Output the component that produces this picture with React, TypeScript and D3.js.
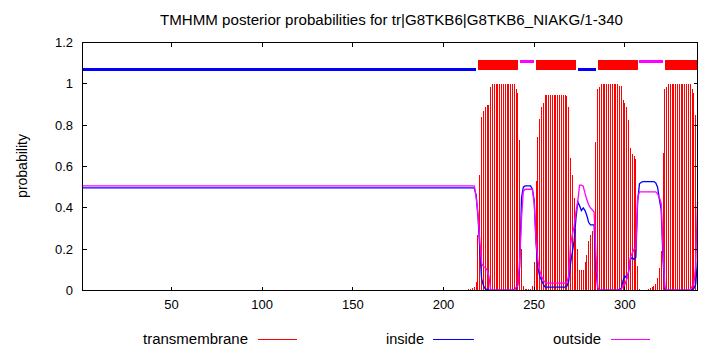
import React from "react";
import * as d3 from "d3";

// ---------- data (per residue 1..340) ----------
const title = "TMHMM posterior probabilities for tr|G8TKB6|G8TKB6_NIAKG/1-340";
const seqLength = 340;

const tmProb = [
  0, 0, 0.004, 0.004, 0.004, 0.004, 0.004, 0.004, 0.004, 0.004, 0.004, 0.004, 0.004, 0.004, 0.004, 0.004, 0.004, 0.004, 0.004, 0,
  0, 0, 0, 0, 0, 0, 0, 0, 0, 0, 0, 0, 0, 0, 0, 0, 0, 0, 0, 0,
  0, 0, 0, 0, 0, 0, 0, 0, 0, 0, 0, 0, 0, 0, 0, 0, 0, 0, 0, 0,
  0, 0, 0, 0, 0, 0, 0, 0, 0, 0, 0, 0, 0, 0, 0, 0, 0, 0, 0, 0,
  0, 0, 0, 0, 0, 0, 0, 0, 0, 0, 0, 0, 0, 0, 0, 0, 0, 0, 0, 0,
  0, 0, 0, 0, 0, 0, 0, 0, 0, 0, 0, 0, 0, 0, 0, 0, 0, 0, 0, 0,
  0, 0, 0, 0, 0, 0, 0, 0, 0, 0, 0, 0, 0, 0, 0, 0, 0, 0, 0, 0,
  0, 0, 0, 0, 0, 0, 0, 0, 0, 0, 0, 0, 0, 0, 0, 0, 0, 0, 0, 0,
  0, 0, 0, 0, 0, 0, 0, 0, 0, 0, 0, 0, 0, 0, 0, 0, 0, 0, 0, 0,
  0, 0, 0, 0, 0, 0, 0, 0, 0, 0, 0, 0, 0, 0, 0, 0, 0, 0, 0, 0,
  0, 0, 0, 0, 0, 0, 0, 0, 0, 0, 0, 0, 0, 0.005, 0.008, 0.01, 0.015, 0.04, 0.27, 0.56,
  0.84, 0.87, 0.89, 0.9, 0.9, 0.987, 0.997, 1, 1, 1, 1, 1, 1, 1, 1, 1, 1, 1, 0.997, 0.977,
  0.958, 0.726, 0.2, 0.02, 0.008, 0.005, 0.005, 0.006, 0.02, 0.14, 0.53, 0.745, 0.832, 0.886, 0.905, 0.944, 0.948, 0.948, 0.948, 0.948,
  0.948, 0.948, 0.948, 0.948, 0.948, 0.948, 0.948, 0.939, 0.886, 0.64, 0.56, 0.45, 0.3, 0.2, 0.1, 0.1, 0.1, 0.14, 0.17, 0.24,
  0.27, 0.29, 0.3, 0.72, 0.977, 0.987, 0.997, 1, 1, 1, 1, 1, 1, 1, 1, 0.997, 0.99, 0.99, 0.92, 0.905,
  0.886, 0.823, 0.69, 0.66, 0.65, 0.634, 0.12, 0.007, 0.003, 0.002, 0.002, 0.004, 0.006, 0.01, 0.015, 0.02, 0.03, 0.06, 0.11, 0.19,
  0.665, 0.973, 0.987, 0.997, 1, 1, 1, 1, 1, 1, 1, 1, 1, 0.997, 0.997, 0.997, 0.973, 0.958, 0.847, 0.435,
];

const insideProb = [
  0.497, 0.497, 0.497, 0.497, 0.497, 0.497, 0.497, 0.497, 0.497, 0.497, 0.497, 0.497, 0.497, 0.497, 0.497, 0.497, 0.497, 0.497, 0.497, 0.497,
  0.497, 0.497, 0.497, 0.497, 0.497, 0.497, 0.497, 0.497, 0.497, 0.497, 0.497, 0.497, 0.497, 0.497, 0.497, 0.497, 0.497, 0.497, 0.497, 0.497,
  0.497, 0.497, 0.497, 0.497, 0.497, 0.497, 0.497, 0.497, 0.497, 0.497, 0.497, 0.497, 0.497, 0.497, 0.497, 0.497, 0.497, 0.497, 0.497, 0.497,
  0.497, 0.497, 0.497, 0.497, 0.497, 0.497, 0.497, 0.497, 0.497, 0.497, 0.497, 0.497, 0.497, 0.497, 0.497, 0.497, 0.497, 0.497, 0.497, 0.497,
  0.497, 0.497, 0.497, 0.497, 0.497, 0.497, 0.497, 0.497, 0.497, 0.497, 0.497, 0.497, 0.497, 0.497, 0.497, 0.497, 0.497, 0.497, 0.497, 0.497,
  0.497, 0.497, 0.497, 0.497, 0.497, 0.497, 0.497, 0.497, 0.497, 0.497, 0.497, 0.497, 0.497, 0.497, 0.497, 0.497, 0.497, 0.497, 0.497, 0.497,
  0.497, 0.497, 0.497, 0.497, 0.497, 0.497, 0.497, 0.497, 0.497, 0.497, 0.497, 0.497, 0.497, 0.497, 0.497, 0.497, 0.497, 0.497, 0.497, 0.497,
  0.497, 0.497, 0.497, 0.497, 0.497, 0.497, 0.497, 0.497, 0.497, 0.497, 0.497, 0.497, 0.497, 0.497, 0.497, 0.497, 0.497, 0.497, 0.497, 0.497,
  0.497, 0.497, 0.497, 0.497, 0.497, 0.497, 0.497, 0.497, 0.497, 0.497, 0.497, 0.497, 0.497, 0.497, 0.497, 0.497, 0.497, 0.497, 0.497, 0.497,
  0.497, 0.497, 0.497, 0.497, 0.497, 0.497, 0.497, 0.497, 0.497, 0.497, 0.497, 0.497, 0.497, 0.497, 0.497, 0.497, 0.497, 0.497, 0.497, 0.497,
  0.497, 0.497, 0.497, 0.497, 0.497, 0.497, 0.497, 0.497, 0.497, 0.497, 0.497, 0.497, 0.497, 0.497, 0.497, 0.497, 0.495, 0.46, 0.36, 0.2,
  0.056, 0.024, 0.008, 0.005, 0.003, 0.002, 0.002, 0.002, 0.002, 0.002, 0.002, 0.002, 0.002, 0.002, 0.002, 0.002, 0.002, 0.002, 0.005, 0.01,
  0.03, 0.12, 0.45, 0.5, 0.506, 0.506, 0.506, 0.506, 0.49, 0.435, 0.23, 0.11, 0.07, 0.05, 0.03, 0.016, 0.016, 0.016, 0.016, 0.016,
  0.016, 0.016, 0.016, 0.016, 0.016, 0.016, 0.016, 0.02, 0.045, 0.13, 0.185, 0.24, 0.35, 0.43, 0.41, 0.387, 0.4, 0.387, 0.363, 0.33,
  0.318, 0.318, 0.318, 0.105, 0.012, 0.002, 0.002, 0.002, 0.002, 0.002, 0.002, 0.002, 0.002, 0.002, 0.002, 0.002, 0.005, 0.01, 0.05, 0.07,
  0.06, 0.09, 0.15, 0.16, 0.15, 0.16, 0.43, 0.516, 0.524, 0.527, 0.527, 0.527, 0.527, 0.527, 0.527, 0.527, 0.52, 0.5, 0.44, 0.39,
  0.145, 0.01, 0.002, 0.002, 0.002, 0.002, 0.002, 0.002, 0.002, 0.002, 0.002, 0.002, 0.002, 0.002, 0.002, 0.002, 0.005, 0.01, 0.03, 0.14,
];

const outsideProb = [
  0.506, 0.506, 0.506, 0.506, 0.506, 0.506, 0.506, 0.506, 0.506, 0.506, 0.506, 0.506, 0.506, 0.506, 0.506, 0.506, 0.506, 0.506, 0.506, 0.506,
  0.506, 0.506, 0.506, 0.506, 0.506, 0.506, 0.506, 0.506, 0.506, 0.506, 0.506, 0.506, 0.506, 0.506, 0.506, 0.506, 0.506, 0.506, 0.506, 0.506,
  0.506, 0.506, 0.506, 0.506, 0.506, 0.506, 0.506, 0.506, 0.506, 0.506, 0.506, 0.506, 0.506, 0.506, 0.506, 0.506, 0.506, 0.506, 0.506, 0.506,
  0.506, 0.506, 0.506, 0.506, 0.506, 0.506, 0.506, 0.506, 0.506, 0.506, 0.506, 0.506, 0.506, 0.506, 0.506, 0.506, 0.506, 0.506, 0.506, 0.506,
  0.506, 0.506, 0.506, 0.506, 0.506, 0.506, 0.506, 0.506, 0.506, 0.506, 0.506, 0.506, 0.506, 0.506, 0.506, 0.506, 0.506, 0.506, 0.506, 0.506,
  0.506, 0.506, 0.506, 0.506, 0.506, 0.506, 0.506, 0.506, 0.506, 0.506, 0.506, 0.506, 0.506, 0.506, 0.506, 0.506, 0.506, 0.506, 0.506, 0.506,
  0.506, 0.506, 0.506, 0.506, 0.506, 0.506, 0.506, 0.506, 0.506, 0.506, 0.506, 0.506, 0.506, 0.506, 0.506, 0.506, 0.506, 0.506, 0.506, 0.506,
  0.506, 0.506, 0.506, 0.506, 0.506, 0.506, 0.506, 0.506, 0.506, 0.506, 0.506, 0.506, 0.506, 0.506, 0.506, 0.506, 0.506, 0.506, 0.506, 0.506,
  0.506, 0.506, 0.506, 0.506, 0.506, 0.506, 0.506, 0.506, 0.506, 0.506, 0.506, 0.506, 0.506, 0.506, 0.506, 0.506, 0.506, 0.506, 0.506, 0.506,
  0.506, 0.506, 0.506, 0.506, 0.506, 0.506, 0.506, 0.506, 0.506, 0.506, 0.506, 0.506, 0.506, 0.506, 0.506, 0.506, 0.506, 0.506, 0.506, 0.506,
  0.506, 0.506, 0.506, 0.506, 0.506, 0.506, 0.506, 0.506, 0.506, 0.506, 0.506, 0.506, 0.506, 0.506, 0.506, 0.506, 0.505, 0.45, 0.37, 0.24,
  0.13, 0.116, 0.11, 0.1, 0.07, 0.002, 0.002, 0.002, 0.002, 0.002, 0.002, 0.002, 0.002, 0.002, 0.002, 0.002, 0.002, 0.002, 0.003, 0.015,
  0.025, 0.15, 0.35, 0.48, 0.49, 0.49, 0.49, 0.49, 0.488, 0.42, 0.24, 0.145, 0.097, 0.07, 0.05, 0.04, 0.036, 0.036, 0.036, 0.036,
  0.036, 0.036, 0.036, 0.036, 0.036, 0.036, 0.036, 0.04, 0.07, 0.22, 0.27, 0.31, 0.38, 0.43, 0.51, 0.51, 0.505, 0.47, 0.44, 0.415,
  0.4, 0.39, 0.38, 0.17, 0.012, 0.002, 0.002, 0.002, 0.002, 0.002, 0.002, 0.002, 0.002, 0.002, 0.002, 0.002, 0.002, 0.005, 0.025, 0.03,
  0.055, 0.09, 0.16, 0.18, 0.2, 0.2, 0.45, 0.477, 0.477, 0.477, 0.477, 0.477, 0.477, 0.477, 0.477, 0.477, 0.477, 0.468, 0.45, 0.42,
  0.19, 0.016, 0.002, 0.002, 0.002, 0.002, 0.002, 0.002, 0.002, 0.002, 0.002, 0.002, 0.002, 0.002, 0.002, 0.002, 0.02, 0.03, 0.12, 0.43,
];

// predicted topology segments [start, end]
const insideSegments = [[1, 218], [274, 284]];
const outsideSegments = [[242, 250], [308, 321]];
const tmSegments = [[219, 241], [251, 273], [285, 307], [322, 340]];
const insideLevel = 1.068;
const outsideLevel = 1.11;
const tmBoxLevels = [1.066, 1.113];

const xTicks = [50, 100, 150, 200, 250, 300];
const yTicks = [0, 0.2, 0.4, 0.6, 0.8, 1, 1.2];
const yTickLabels = ["0", "0.2", "0.4", "0.6", "0.8", "1", "1.2"];
const legendLabels = ["transmembrane", "inside", "outside"];

const RED = "#ff0000";
const BLUE = "#0000ff";
const MAGENTA = "#ff00ff";
const FONT = "'Liberation Sans', Arial, sans-serif";

export default function App() {
  const left = 82.5, right = 697.5, top = 42.5, bottom = 290.5;
  const x = d3.scaleLinear().domain([1, seqLength]).range([left, right]);
  const y = d3.scaleLinear().domain([0, 1.2]).range([bottom, top]);
  const residues = d3.range(1, seqLength + 1);

  const line = d3
    .line<number>()
    .x((_, i) => x(residues[i]))
    .y((d) => y(d));

  const tick = 4;
  const legendItems = [
    { label: legendLabels[0], color: RED, textEnd: 248, len: 105, l0: 258, l1: 297 },
    { label: legendLabels[1], color: BLUE, textEnd: 424, len: 38, l0: 433, l1: 474 },
    { label: legendLabels[2], color: MAGENTA, textEnd: 601, len: 48, l0: 611, l1: 650 },
  ];

  return (
    <svg
      width={710}
      height={350}
      style={{ position: "absolute", left: 0, top: 0, background: "#fff" }}
      fontFamily={FONT}
    >
      <rect x={0} y={0} width={710} height={350} fill="#fff" />
      {/* title */}
      <text x={160} y={25} fontSize={14} textLength={463} lengthAdjust="spacingAndGlyphs">
        {title}
      </text>

      {/* impulses */}
      <g shapeRendering="crispEdges">
        {tmProb.map((v, i) =>
          v > 0 ? (
            <line
              key={i}
              x1={x(residues[i])}
              x2={x(residues[i])}
              y1={y(0)}
              y2={y(v)}
              stroke={RED}
              strokeWidth={1}
            />
          ) : null
        )}
      </g>

      {/* inside / outside curves */}
      <path d={line(insideProb) || ""} fill="none" stroke={BLUE} strokeWidth={1.3} />
      <path d={line(outsideProb) || ""} fill="none" stroke={MAGENTA} strokeWidth={1.3} />

      {/* topology bars */}
      <g shapeRendering="crispEdges">
        {insideSegments.map(([s, e], i) => (
          <line key={"in" + i} x1={x(s)} x2={x(e)} y1={y(insideLevel)} y2={y(insideLevel)} stroke={BLUE} strokeWidth={3} />
        ))}
        {outsideSegments.map(([s, e], i) => (
          <line key={"out" + i} x1={x(s)} x2={x(e)} y1={y(outsideLevel)} y2={y(outsideLevel)} stroke={MAGENTA} strokeWidth={3} />
        ))}
        {tmSegments.map(([s, e], i) => (
          <rect
            key={"tm" + i}
            x={x(s)}
            width={x(e) - x(s)}
            y={y(tmBoxLevels[1])}
            height={y(tmBoxLevels[0]) - y(tmBoxLevels[1])}
            fill={RED}
          />
        ))}
      </g>

      {/* frame and ticks */}
      <g shapeRendering="crispEdges" stroke="#000" strokeWidth={1}>
        <rect x={left} y={top} width={right - left} height={bottom - top} fill="none" />
        {xTicks.map((t) => (
          <g key={"xt" + t}>
            <line x1={x(t)} x2={x(t)} y1={bottom} y2={bottom - tick} />
            <line x1={x(t)} x2={x(t)} y1={top} y2={top + tick} />
          </g>
        ))}
        {yTicks.map((t) => (
          <g key={"yt" + t}>
            <line x1={left} x2={left + tick} y1={y(t)} y2={y(t)} />
            <line x1={right} x2={right - tick} y1={y(t)} y2={y(t)} />
          </g>
        ))}
      </g>

      {/* tick labels */}
      <g fontSize={13} fill="#000">
        {xTicks.map((t) => (
          <text key={"xl" + t} x={x(t)} y={309} textAnchor="middle">
            {t}
          </text>
        ))}
        {yTicks.map((t, i) => (
          <text key={"yl" + t} x={73} y={y(t) + 4.5} textAnchor="end">
            {yTickLabels[i]}
          </text>
        ))}
      </g>

      {/* y label */}
      <text
        transform="translate(27,166) rotate(-90)"
        textAnchor="middle"
        fontSize={14}
        fill="#000"
      >
        probability
      </text>

      {/* legend */}
      {legendItems.map((it) => (
        <g key={it.label}>
          <text
            x={it.textEnd - it.len}
            y={344}
            fontSize={14}
            textLength={it.len}
            lengthAdjust="spacingAndGlyphs"
          >
            {it.label}
          </text>
          <line x1={it.l0} x2={it.l1} y1={339.5} y2={339.5} stroke={it.color} strokeWidth={1} shapeRendering="crispEdges" />
        </g>
      ))}
    </svg>
  );
}
